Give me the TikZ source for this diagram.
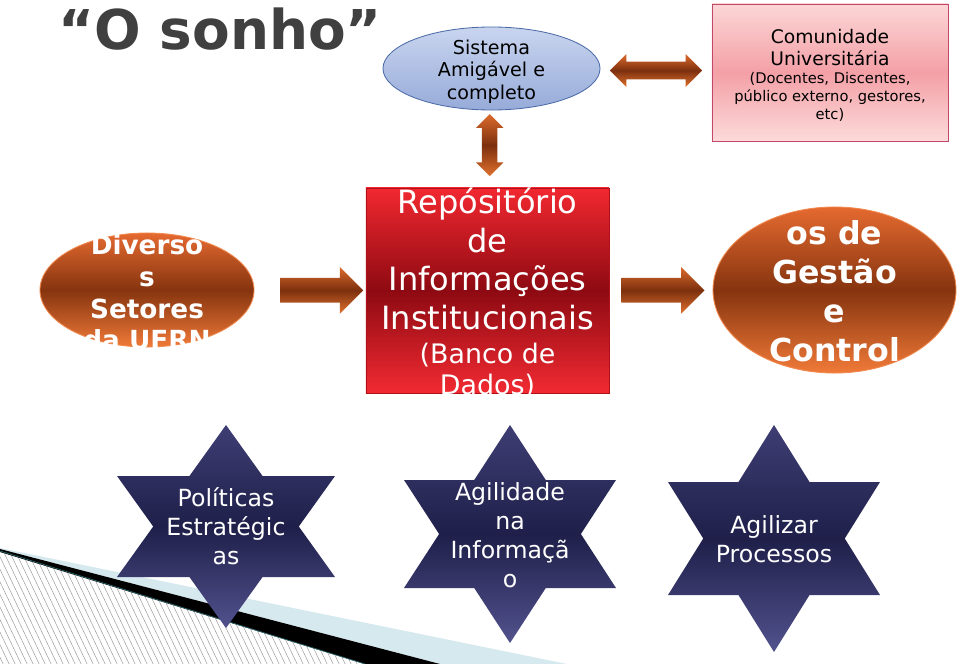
\documentclass[tikz,border=0pt]{standalone}
\usepackage{fontspec}
\setmainfont{DejaVu Sans}
\usepackage{tikz}
\usetikzlibrary{shapes.geometric,shapes.arrows,calc,positioning}

\definecolor{titlegray}{HTML}{404040}
\definecolor{sisttop}{HTML}{C9D5EF}
\definecolor{sistbot}{HTML}{97ABD9}
\definecolor{sistedge}{HTML}{4C6CA8}
\definecolor{comtop}{HTML}{FCD6D6}
\definecolor{commid}{HTML}{F3A0A6}
\definecolor{combot}{HTML}{FCDADA}
\definecolor{comedge}{HTML}{C2486A}
\definecolor{orangetop}{HTML}{E56A30}
\definecolor{orangemid}{HTML}{86340F}
\definecolor{orangebot}{HTML}{F07A38}
\definecolor{orangeedge}{HTML}{F28A50}
\definecolor{redtop}{HTML}{F22830}
\definecolor{redmid}{HTML}{8E0A12}
\definecolor{redbot}{HTML}{F22A32}
\definecolor{rededge}{HTML}{B01018}
\definecolor{arrowtop}{HTML}{DC6A2C}
\definecolor{arrowmid}{HTML}{7C300E}
\definecolor{arrowbot}{HTML}{E0702E}
\definecolor{startop}{HTML}{3E3E74}
\definecolor{starmid}{HTML}{1F1F4A}
\definecolor{starbot}{HTML}{52528E}
\definecolor{hatchgray}{HTML}{9A9A9A}
\definecolor{bandblue}{HTML}{D6E9EF}
\definecolor{bandedge}{HTML}{2E6A6E}

\tikzset{
  orangeblob/.style={ellipse, draw=orangeedge, line width=0.6pt, inner sep=0pt,
    top color=orangetop, bottom color=orangebot, middle color=orangemid},
  blobtext/.style={text=white, align=center, font=\bfseries},
  fatarrow/.style={single arrow, inner sep=0.3cm, single arrow head extend=0.275cm,
    single arrow head indent=0pt, minimum height=2.075cm,
    top color=arrowtop, bottom color=arrowbot, middle color=arrowmid},
  twoway/.style={double arrow, double arrow head indent=0pt,
    top color=arrowtop, bottom color=arrowbot, middle color=arrowmid},
  starfill/.style={top color=startop, bottom color=starbot, middle color=starmid},
  startext/.style={text=white, align=center, font=\fontsize{16.8}{20.6}\selectfont}
}

\begin{document}
\begin{tikzpicture}[x=0.025cm, y=-0.025cm]
    \useasboundingbox (0,0) rectangle (960,664);

    % Decoration in the lower left corner
    \begin{scope}
        \clip (0,552) -- (365,664) -- (0,664) -- cycle;
        \foreach \i in {-80,-74,...,380}
            \draw[hatchgray, line width=0.35pt] (\i,540) -- ++(62,130);
    \end{scope}
    \fill[bandblue] (0,548) -- (567,664) -- (440,664) -- (0,549) -- cycle;
    \fill[black] (0,549) -- (440,664) -- (365,664) -- (0,552) -- cycle;
    \draw[bandedge, line width=0.5pt] (0,551) -- (365,664);

    % Title
    \node[anchor=base, text=titlegray, font=\fontsize{39}{46}\selectfont\bfseries] (title) at (220,49) {“O sonho”};

    % Top row
    \node[ellipse, draw=sistedge, line width=0.6pt, inner sep=0pt, minimum width=5.425cm, minimum height=2.075cm,
          top color=sisttop, bottom color=sistbot] (sistema) at (491.5,68.5) {};
    \node[align=center, font=\fontsize{13.6}{16}\selectfont] (sistematxt) at (491.5,71.5) {Sistema\\Amigável e\\completo};

    \node[draw=comedge, line width=0.6pt, inner sep=0pt, minimum width=5.9cm, minimum height=3.425cm,
          top color=comtop, bottom color=combot, middle color=commid] (comunidade) at (830,72.5) {};
    \node[align=center, font=\fontsize{13.3}{15.6}\selectfont] (comunidadetxt) at (830,47.5) {Comunidade\\Universitária};
    \node[align=center, font=\fontsize{10.45}{12.8}\selectfont] (publicotxt) at (830,96.8) {(Docentes, Discentes,\\público externo, gestores,\\etc)};

    % Middle row
    \node[orangeblob, minimum width=5.35cm, minimum height=2.85cm] (setores) at (147,290) {};
    \begin{scope}
        \clip (setores.west |- setores.north) rectangle (setores.east |- setores.south);
        \node[blobtext, font=\fontsize{18.7}{22.5}\selectfont\bfseries] (setorestxt) at (147,292.5) {Diverso\\s\\Setores\\da UFRN};
    \end{scope}

    \node[draw=rededge, line width=0.5pt, inner sep=0pt, minimum width=6.075cm, minimum height=5.125cm,
          top color=redtop, bottom color=redbot, middle color=redmid] (repo) at (487.5,290.5) {};
    \begin{scope}
        \clip (repo.north west) rectangle (repo.south east);
        \node[text=white, align=center, font=\fontsize{22.8}{27.5}\selectfont] (repotxt) at (487.5,258.8) {Repósitório\\de\\Informações\\Institucionais};
        \node[text=white, align=center, font=\fontsize{19.1}{22}\selectfont] (bancotxt) at (487.5,371) {(Banco de\\Dados)};
    \end{scope}

    \node[orangeblob, minimum width=6.075cm, minimum height=4.15cm] (gestao) at (834.5,290) {};
    \begin{scope}
        \clip (gestao.west |- gestao.north) rectangle (gestao.east |- gestao.south);
        \node[blobtext, font=\fontsize{22.5}{27.7}\selectfont\bfseries] (gestaotxt) at (834.5,291.5) {os de\\Gestão\\e\\Control};
    \end{scope}

    % Block arrows
    \node[twoway, inner sep=0.2125cm, double arrow head extend=0.1875cm, minimum height=2.3cm]
        (toptwoway) at ($(sistema.east)!0.5!(comunidade.west)$) {};
    \node[twoway, inner sep=0.1875cm, double arrow head extend=0.15cm, minimum height=1.55cm, shape border rotate=90]
        (downtwoway) at ($(sistema.south)!0.45!(repo.north)$) {};
    \node[fatarrow] (leftarrow) at ($(setores.east)!0.55!(repo.west)$) {};
    \node[fatarrow] (rightarrow) at ($(repo.east)!0.46!(gestao.west)$) {};

    % Stars
    \foreach \cx/\tp/\bt/\hw/\dd in {226/425/628/109/51, 510/425/643/106/55, 774/425/652/106/57} {
        \pgfmathsetmacro\hh{\bt-\tp-\dd}
        \pgfmathsetmacro\ia{\hw/\hh*\dd}
        \pgfmathsetmacro\ib{\hw/\hh*(\bt-\tp)/2}
        \pgfmathsetmacro\my{(\tp+\bt)/2}
        \path[starfill] (\cx,\tp) -- (\cx+\ia,\tp+\dd) -- (\cx+\hw,\tp+\dd) -- (\cx+\ib,\my)
            -- (\cx+\hw,\bt-\dd) -- (\cx+\ia,\bt-\dd) -- (\cx,\bt) -- (\cx-\ia,\bt-\dd)
            -- (\cx-\hw,\bt-\dd) -- (\cx-\ib,\my) -- (\cx-\hw,\tp+\dd) -- (\cx-\ia,\tp+\dd) -- cycle;
    }
    \node[startext] (politicas) at (226,526) {Políticas\\Estratégic\\as};
    \node[startext] (agilidade) at (510,535) {Agilidade\\na\\Informaçã\\o};
    \node[startext] (agilizar) at (774,539.5) {Agilizar\\Processos};
\end{tikzpicture}
\end{document}
